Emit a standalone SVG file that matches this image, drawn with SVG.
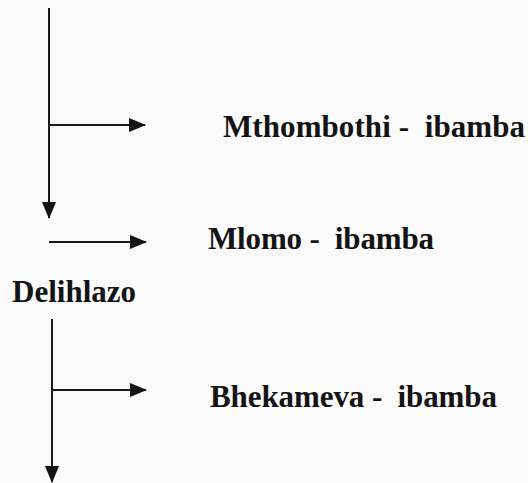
<svg xmlns="http://www.w3.org/2000/svg" width="528" height="483" viewBox="0 0 528 483">
  <style>
    .lbl { font-family: "Liberation Serif", "Times New Roman", serif; font-weight: bold; font-size: 31px; fill: #141414; white-space: pre; }
    .flow { stroke: #1a1a1a; stroke-width: 2; fill: none; }
  </style>
  <defs>
    <marker id="head" markerUnits="userSpaceOnUse" markerWidth="18" markerHeight="14" refX="16" refY="7" orient="auto">
      <path d="M0,0 L17,7 L0,14 Z" fill="#141414"/>
    </marker>
  </defs>
  <rect width="528" height="483" fill="#fbfbfb"/>

  <g id="connectors">
    <line class="flow" x1="49" y1="8" x2="49" y2="218" marker-end="url(#head)"/>
    <line class="flow" x1="49" y1="125" x2="145" y2="125" marker-end="url(#head)"/>
    <line class="flow" x1="49" y1="242" x2="146" y2="242" marker-end="url(#head)"/>
    <line class="flow" x1="52" y1="319" x2="52" y2="482" marker-end="url(#head)"/>
    <line class="flow" x1="52" y1="390" x2="146" y2="390" marker-end="url(#head)"/>
  </g>

  <g id="mthombothi">
    <text class="lbl" x="223" y="137" textLength="302" lengthAdjust="spacing">Mthombothi -  ibamba</text>
  </g>
  <g id="mlomo">
    <text class="lbl" x="208" y="249" textLength="226" lengthAdjust="spacing">Mlomo -  ibamba</text>
  </g>
  <g id="delihlazo">
    <text class="lbl" x="12" y="302" textLength="124" lengthAdjust="spacing">Delihlazo</text>
  </g>
  <g id="bhekameva">
    <text class="lbl" x="210" y="407" textLength="287" lengthAdjust="spacing">Bhekameva -  ibamba</text>
  </g>
</svg>
